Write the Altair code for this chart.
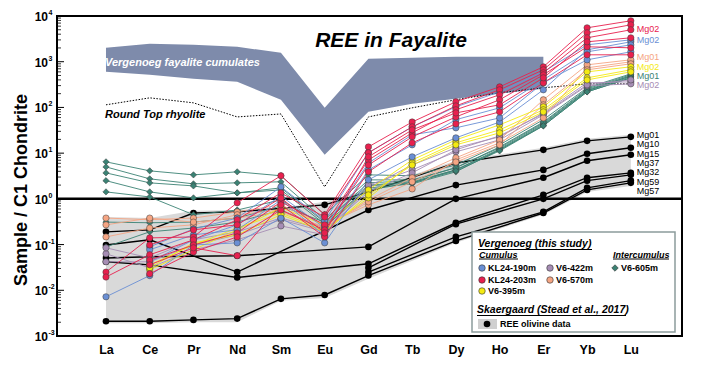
import json
import pandas as pd
import altair as alt

FONT = "Liberation Sans"
N = None

elements = ["La", "Ce", "Pr", "Nd", "Sm", "Eu", "Gd", "Tb", "Dy", "Ho", "Er", "Yb", "Lu"]

# Vergenoeg fayalite cumulates envelope (La..Er)
verg_env_idx = [0, 1, 2, 3, 4, 5, 6, 7, 8, 9, 10]
verg_env_upper = [2015, 2465, 2340, 2120, 1565, 98, 1157, 1217, 1280, 1280, 1280]
verg_env_lower = [600, 517, 423, 363, 147, 9.2, 80, 120, 154, 199, 255]

# Round Top rhyolite
round_top = [114, 162, 126, 62, 72, 1.83, 62, 98, 147, 209, 269, 328, 328]

# Skaergaard olivine envelope
skaer_env_idx = [0, 1, 2, 3, 4, 5, 6, 8, 10, 11, 12]
skaer_env_upper = [0.40, 0.38, 0.55, 0.57, 0.64, 0.86, 1.65, 6.8, 13.1, 20.6, 25.2]
skaer_env_lower = [0.0019, 0.0019, 0.002, 0.002, 0.0059, 0.0068, 0.0178, 0.109, 0.45, 1.42, 1.92]

# Skaergaard olivine (Stead et al., 2017)
mg01 = [0.19, 0.21, 0.49, 0.52, N, 0.74, 1.42, N, 6.1, N, 11.8, 18.6, 22.7]
mg10 = [0.098, 0.127, N, 0.025, N, N, 0.57, N, 2.0, N, 4.3, 9.7, 13.1]
mg15 = [0.051, 0.054, N, 0.057, N, N, 0.089, N, 1.0, N, 2.9, 6.8, 9.2]
mg37 = [0.042, 0.036, N, 0.019, N, N, 0.038, N, 0.30, N, 1.22, 2.9, 3.7]
mg32 = [N, N, N, N, N, N, 0.031, N, 0.28, N, 1.0, 2.5, 3.35]
mg59 = [N, N, N, N, N, N, 0.025, N, 0.147, N, 0.52, 1.74, 2.5]
mg57 = [0.0021, 0.0021, 0.00225, 0.0024, 0.0065, 0.0079, 0.021, N, 0.12, N, 0.49, 1.57, 2.24]
skaer = {"Mg01": mg01, "Mg10": mg10, "Mg15": mg15, "Mg37": mg37,
         "Mg32": mg32, "Mg59": mg59, "Mg57": mg57}

# Vergenoeg (this study)
v6_605m = [
    [6.45, 4.1, 3.35, 3.9, 3.2, 0.45, 3.35, 3.2, 5.5, 15.2, 54, 269, 543],
    [5.0, 2.74, 2.13, 2.24, 2.36, 0.35, 2.6, 2.6, 4.8, 13.1, 46, 243, 491],
    [3.7, 2.24, 1.92, 1.35, 1.74, 0.31, 2.0, 2.36, 4.3, 11.8, 41.6, 231, 467],
    [2.5, 1.42, 1.05, 1.35, 1.57, 0.28, 1.74, 2.13, 3.9, 11.8, 39.6, 219, 444],
    [1.42, 1.1, 0.45, 0.57, 0.95, 0.256, 1.57, 2.24, 4.3, 12.4, 43.7, 231, 491],
    [0.31, 0.30, 0.31, 0.38, 0.70, 0.31, 2.24, 2.5, 4.8, 13.7, 48, 255, 517],
    [0.089, 0.19, 0.23, 0.31, 0.57, 0.23, 1.92, 2.24, 4.1, 11.2, 39.6, 219, 444],
]
v6_422m = [
    [0.063, 0.031, 0.077, 0.127, 0.256, 0.163, 1.74, 5.5, 13.1, 22.7, 76, 345, 363],
    [0.042, 0.042, 0.098, 0.163, 0.35, 0.19, 2.0, 4.3, 10.7, 19.5, 69, 297, 328],
    [0.085, 0.051, 0.127, 0.19, 0.38, 0.21, 1.42, 3.7, 11.8, 23.9, 72, 312, 400],
]
v6_570m = [
    [0.38, 0.35, 0.38, 0.52, 0.74, 0.27, 0.74, 1.65, 7.1, 16.8, 59, 735, 995],
    [0.147, 0.23, 0.27, 0.45, 0.57, 0.23, 0.95, 2.9, 7.9, 19.5, 147, 855, 1100],
    [0.27, 0.38, 0.31, 0.38, 0.52, 0.244, 0.86, 2.36, 6.4, 15.2, 114, 665, 900],
]
v6_395m = [
    [N, 0.028, 0.077, 0.21, 0.64, 0.27, 1.57, 7.1, 19.5, 41.6, 103, 600, 773],
    [N, 0.036, 0.098, 0.23, 0.49, 0.21, 1.05, 6.1, 16.8, 32.3, 89, 444, 665],
    [N, 0.031, 0.109, 0.163, 0.45, 0.19, 1.22, 5.5, 15.2, 27.8, 80, 400, 600],
]
kl24_190m = [
    [0.0072, 0.021, 0.098, 0.109, 0.38, 0.109, 2.6, 8.3, 21.6, 48, 243, 1820, 2725],
    [N, 0.089, 0.22, 0.38, 1.83, 0.33, 10.2, 37.6, 103, 219, 600, 2340, 3015],
    [N, 0.042, 0.127, 0.27, 1.16, 0.23, 6.1, 25.2, 35.8, 59, 345, 1100, 1647],
    [N, 0.077, 0.163, 0.21, 0.95, 0.155, 4.3, 15.2, 54, 98, 402, 1647, 2340],
]
kl24_203m = [
    [0.025, 0.14, 0.147, 0.82, 3.2, 0.45, 13.7, 48, 133, 282, 773, 5520, 7850],
    [0.0195, 0.06, 0.127, 0.35, 1.35, 0.40, 10.2, 37.6, 108, 243, 665, 4290, 6420],
    [N, 0.046, 0.098, 0.18, 0.86, 0.27, 7.1, 27.8, 89, 189, 571, 3335, 4990],
    [N, 0.023, 0.069, 0.147, 0.57, 0.21, 5.5, 22.7, 62, 147, 517, 2120, 2015],
    [N, 0.036, 0.085, 0.057, 0.74, 0.147, 3.9, 16.8, 43.8, 80, 345, 1416, 1416],
    [N, 0.098, 0.21, 0.27, 1.05, 0.18, 8.3, 32.3, 76, 114, 444, 2725, 3335],
]

groups = ["V6-605m", "V6-422m", "V6-570m", "V6-395m", "KL24-190m", "KL24-203m"]
group_data = [v6_605m, v6_422m, v6_570m, v6_395m, kl24_190m, kl24_203m]
group_colors = ["#3b8274", "#a68db4", "#f5a583", "#f4ea12", "#6a8fd4", "#e8204e"]
group_shapes = ["diamond", "circle", "circle", "circle", "circle", "circle"]

# right-hand labels
color_labels = ["Mg02", "Mg02", "Mg01", "Mg02", "Mg01", "Mg02"]
color_label_vals = [5170, 3015, 1280, 754, 479, 305]
color_label_cols = ["#e8204e", "#6a8fd4", "#f5a583", "#f4ea12", "#3b8274", "#a68db4"]
black_labels = ["Mg01", "Mg10", "Mg15", "Mg37", "Mg32", "Mg59", "Mg57"]
black_label_vals = [25.2, 16.0, 9.7, 6.0, 3.84, 2.39, 1.52]

decades = [-3, -2, -1, 0, 1, 2, 3, 4]

# ---------------------------------------------------------------- scales
xs = alt.Scale(domain=[-1.12, 13.17], nice=False, zero=False)
ys = alt.Scale(type="log", domain=[0.001, 10000], nice=False)
x_axis = alt.Axis(values=list(range(len(elements))),
                  labelExpr=json.dumps(elements) + "[datum.value]",
                  ticks=False, domain=False, grid=False, labelFontSize=12.5,
                  labelFontWeight="bold", labelColor="black", labelFont=FONT,
                  labelPadding=7, title=None)


def X(f):
    return alt.X(f, type="quantitative", scale=xs, axis=x_axis)


def Y(f):
    return alt.Y(f, type="quantitative", scale=ys, axis=None)


one = pd.DataFrame({"a": [0]})


def txt(s, x, y, size, weight="bold", style="normal", color="black",
        align="left", baseline="alphabetic", angle=0):
    return alt.Chart(one).mark_text(
        text=s, fontSize=size, fontWeight=weight, fontStyle=style, color=color,
        align=align, baseline=baseline, angle=angle, font=FONT
    ).encode(x=alt.value(x), y=alt.value(y))


def hline(x1, x2, y, w=1.0):
    return alt.Chart(one).mark_rule(color="black", strokeWidth=w).encode(
        x=alt.value(x1), x2=alt.value(x2), y=alt.value(y))


def marker(x, y, fill, shape="circle", size=42):
    return alt.Chart(one).mark_point(
        filled=True, shape=shape, size=size, fill=fill, stroke="#333333",
        strokeWidth=0.6, opacity=1
    ).encode(x=alt.value(x), y=alt.value(y))


layers = []

# Vergenoeg envelope
venv = pd.DataFrame({"idx": verg_env_idx, "up": verg_env_upper, "lo": verg_env_lower})
layers.append(alt.Chart(venv).mark_area(color="#7e8bab", opacity=1).encode(
    x=X("idx"), y=Y("up"), y2=alt.Y2("lo")))
layers.append(txt("Vergenoeg fayalite cumulates", 48, 50, 11, style="italic", color="white"))

# Skaergaard envelope
senv = pd.DataFrame({"idx": skaer_env_idx, "up": skaer_env_upper, "lo": skaer_env_lower})
layers.append(alt.Chart(senv).mark_area(color="#d9d9d9", opacity=1).encode(
    x=X("idx"), y=Y("up"), y2=alt.Y2("lo")))

# Round Top rhyolite
rt = pd.DataFrame({"idx": list(range(len(elements))), "v": round_top})
layers.append(alt.Chart(rt).mark_line(color="black", strokeWidth=1, strokeDash=[1.5, 1.5]).encode(
    x=X("idx"), y=Y("v")))
layers.append(txt("Round Top rhyolite", 48, 102, 11, style="italic"))

# y ticks (inside)
minor = [m * 10.0 ** k for k in range(-3, 4) for m in range(2, 10)]
major = [10.0 ** k for k in decades]
layers.append(alt.Chart(pd.DataFrame({"v": minor})).mark_rule(color="black", strokeWidth=0.8).encode(
    y=Y("v"), x=alt.value(0), x2=alt.value(4)))
layers.append(alt.Chart(pd.DataFrame({"v": major})).mark_rule(color="black", strokeWidth=1).encode(
    y=Y("v"), x=alt.value(0), x2=alt.value(7)))

# line at 1
layers.append(alt.Chart(pd.DataFrame({"v": [1.0]})).mark_rule(color="black", strokeWidth=2.5).encode(
    y=Y("v")))

# Skaergaard samples
srows = []
for name, vals in skaer.items():
    for i, v in enumerate(vals):
        if v is not None:
            srows.append({"sample": name, "idx": i, "v": v})
sdf = pd.DataFrame(srows)
layers.append(alt.Chart(sdf).mark_line(color="black", strokeWidth=1.4).encode(
    x=X("idx"), y=Y("v"), detail="sample:N", order="idx:Q"))
layers.append(alt.Chart(sdf).mark_circle(color="black", size=44, opacity=1).encode(
    x=X("idx"), y=Y("v")))

# Vergenoeg samples
vrows = []
for g, samples in zip(groups, group_data):
    for si, vals in enumerate(samples):
        for i, v in enumerate(vals):
            if v is not None:
                vrows.append({"group": g, "sample": f"{g}-{si}", "idx": i, "v": v})
vdf = pd.DataFrame(vrows)
cscale = alt.Scale(domain=groups, range=group_colors)
shscale = alt.Scale(domain=groups, range=group_shapes)
layers.append(alt.Chart(vdf).mark_line(strokeWidth=0.9).encode(
    x=X("idx"), y=Y("v"), color=alt.Color("group:N", scale=cscale, legend=None),
    detail="sample:N", order="idx:Q"))
layers.append(alt.Chart(vdf).mark_point(filled=True, size=40, stroke="#3a3a3a",
                                        strokeWidth=0.5, opacity=1).encode(
    x=X("idx"), y=Y("v"),
    fill=alt.Fill("group:N", scale=cscale, legend=None),
    shape=alt.Shape("group:N", scale=shscale, legend=None)))

# right-hand labels
last = len(elements) - 1
cl = pd.DataFrame({"idx": [last] * len(color_labels), "v": color_label_vals,
                   "t": color_labels, "c": color_label_cols})
layers.append(alt.Chart(cl).mark_text(align="left", baseline="middle", dx=6, fontSize=9, font=FONT).encode(
    x=X("idx"), y=Y("v"), text="t:N", color=alt.Color("c:N", scale=None)))
bl = pd.DataFrame({"idx": [last] * len(black_labels), "v": black_label_vals, "t": black_labels})
layers.append(alt.Chart(bl).mark_text(align="left", baseline="middle", dx=6, fontSize=9, font=FONT,
                                      color="black").encode(
    x=X("idx"), y=Y("v"), text="t:N"))

# y axis labels as 10^n
dl = pd.DataFrame({"v": [10.0 ** k for k in decades], "b": ["10"] * len(decades),
                   "e": [str(k) for k in decades]})
layers.append(alt.Chart(dl).mark_text(align="right", baseline="middle", fontSize=12, fontWeight="bold",
                                      font=FONT, color="black", dy=1).encode(
    x=alt.value(-9), y=Y("v"), text="b:N"))
layers.append(alt.Chart(dl).mark_text(align="left", baseline="middle", fontSize=7, fontWeight="bold",
                                      font=FONT, color="black", dy=-3).encode(
    x=alt.value(-8.5), y=Y("v"), text="e:N"))
layers.append(txt("Sample / C1 Chondrite", -35, 174, 18, align="center", baseline="middle", angle=270))

# title
layers.append(txt("REE in Fayalite", 334, 31, 21, style="italic", align="center"))

# legend
layers.append(alt.Chart(one).mark_rect(fill="white", stroke="#8c9c9c", strokeWidth=1.5).encode(
    x=alt.value(415), x2=alt.value(618), y=alt.value(216), y2=alt.value(316)))
layers.append(txt("Vergenoeg (this study)", 421, 231, 10.5, style="italic"))
layers.append(hline(421, 535, 233.5))
layers.append(txt("Cumulus", 422, 241.5, 9, style="italic"))
layers.append(hline(422, 461, 243))
layers.append(txt("Intercumulus", 556, 241.5, 9, style="italic"))
layers.append(hline(556, 612, 243))
leg_items = [("KL24-190m", 425, 252, "#6a8fd4", "circle"),
             ("V6-422m", 493, 252, "#a68db4", "circle"),
             ("V6-605m", 558, 252, "#3b8274", "diamond"),
             ("KL24-203m", 425, 264, "#e8204e", "circle"),
             ("V6-570m", 493, 264, "#f5a583", "circle"),
             ("V6-395m", 425, 275, "#f4ea12", "circle")]
for lab, lx, ly, col, shp in leg_items:
    layers.append(marker(lx, ly, col, shp))
    layers.append(txt(lab, lx + 6, ly, 9, baseline="middle"))
layers.append(txt("Skaergaard (Stead et al., 2017)", 420, 297, 10.5, style="italic"))
layers.append(hline(420, 569, 299.5))
layers.append(alt.Chart(one).mark_rect(fill="#d0d0d0").encode(
    x=alt.value(421), x2=alt.value(440), y=alt.value(303), y2=alt.value(313)))
layers.append(alt.Chart(one).mark_circle(color="black", size=44, opacity=1).encode(
    x=alt.value(430), y=alt.value(308)))
layers.append(txt("REE olivine data", 443, 308, 9, baseline="middle"))

chart = alt.layer(*layers).properties(
    width=625, height=320,
    padding={"left": 49, "top": 8, "right": 13, "bottom": 22},
    autosize=alt.AutoSizeParams(type="none"),
).configure_view(stroke="black", strokeWidth=2)

chart.save("out.html", embed_options={"renderer": "svg", "actions": False})
